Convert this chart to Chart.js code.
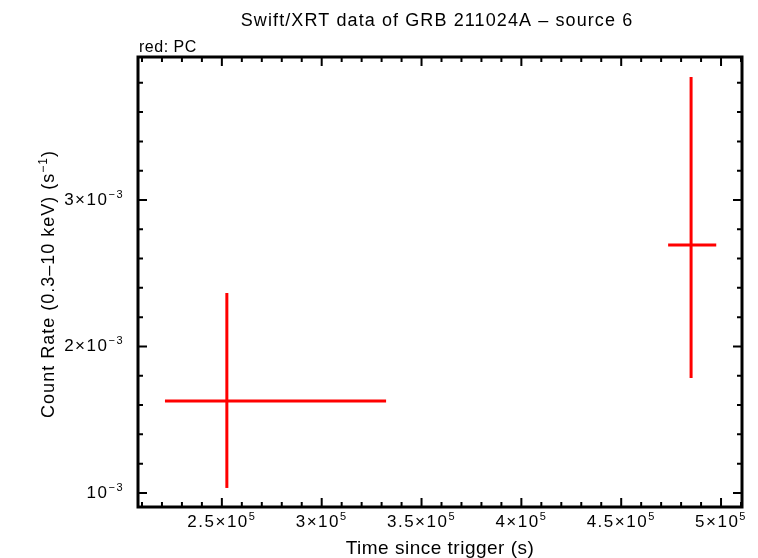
<!DOCTYPE html>
<html>
<head>
<meta charset="utf-8">
<script src="https://cdn.jsdelivr.net/npm/chart.js@4/dist/chart.umd.min.js"></script>
<style>
  body { margin: 0; background: #fff; }
  #wrap { width: 758px; height: 558px; position: relative; }
</style>
</head>
<body>
<div id="wrap"><canvas id="lc"></canvas></div>
<script>
// light curve bins (time in s, rate in counts/s)
const timeMid = [252500, 485000];
const timeLo = [221500, 473500];
const timeHi = [332250, 497600];
const rate = [1.628e-3, 2.693e-3];
const rateLo = [1.034e-3, 1.785e-3];
const rateHi = [2.365e-3, 3.84e-3];

// axis ticks
const xTicks = [250000, 300000, 350000, 400000, 450000, 500000];
const xTickText = ['2.5\u00d710', '3\u00d710', '3.5\u00d710', '4\u00d710', '4.5\u00d710', '5\u00d710'];
const xTickSup = ['5', '5', '5', '5', '5', '5'];
const yTicks = [1e-3, 2e-3, 3e-3];
const yTickText = ['10', '2\u00d710', '3\u00d710'];
const yTickSup = ['\u22123', '\u22123', '\u22123'];

const FONT = '"Liberation Sans", Arial, sans-serif';

// one dataset per error bar segment
const datasets = [];
timeMid.forEach(function (t, i) {
    datasets.push({ data: [{ x: timeLo[i], y: rate[i] }, { x: timeHi[i], y: rate[i] }] });
    datasets.push({ data: [{ x: t, y: rateLo[i] }, { x: t, y: rateHi[i] }] });
});
datasets.forEach(function (d) {
    d.showLine = true;
    d.borderColor = '#ff0000';
    d.borderWidth = 3;
    d.pointRadius = 0;
    d.borderCapStyle = 'butt';
});

// text with a superscript tail, e.g. 3x10^-3
function drawSupText(ctx, main, sup, x, y, align, size) {
    const supSize = Math.round(size * 0.66);
    ctx.font = size + 'px ' + FONT;
    const mw = ctx.measureText(main).width;
    ctx.font = supSize + 'px ' + FONT;
    const sw = ctx.measureText(sup).width;
    let start = x;
    if (align === 'center') start = x - (mw + sw) / 2;
    if (align === 'right') start = x - mw - sw;
    ctx.textAlign = 'left';
    ctx.font = size + 'px ' + FONT;
    ctx.fillText(main, start, y);
    ctx.font = supSize + 'px ' + FONT;
    ctx.fillText(sup, start + mw, y - size * 0.42);
}

const framePlugin = {
    id: 'qdpFrame',
    afterDraw: function (chart) {
        const ctx = chart.ctx;
        const a = chart.chartArea;
        const xs = chart.scales.x;
        const ys = chart.scales.y;
        ctx.save();
        ctx.strokeStyle = '#000';
        ctx.fillStyle = '#000';
        ctx.lineWidth = 3;
        ctx.strokeRect(a.left, a.top, a.right - a.left, a.bottom - a.top);

        // x ticks every 1e4, major every 5e4
        ctx.lineWidth = 2;
        for (let k = 21; k <= 51; k++) {
            const px = xs.getPixelForValue(k * 10000);
            if (px < a.left || px > a.right) continue;
            const len = (k % 5 === 0) ? 9 : 5;
            ctx.beginPath();
            ctx.moveTo(px, a.bottom); ctx.lineTo(px, a.bottom - len);
            ctx.moveTo(px, a.top); ctx.lineTo(px, a.top + len);
            ctx.stroke();
        }
        // y ticks every 2e-4, major every 1e-3
        for (let k = 4; k <= 20; k++) {
            const py = ys.getPixelForValue(k * 2e-4);
            if (py < a.top || py > a.bottom) continue;
            const len = (k % 5 === 0) ? 9 : 5;
            ctx.beginPath();
            ctx.moveTo(a.left, py); ctx.lineTo(a.left + len, py);
            ctx.moveTo(a.right, py); ctx.lineTo(a.right - len, py);
            ctx.stroke();
        }

        ctx.textBaseline = 'alphabetic';
        ctx.letterSpacing = '1.5px';
        xTicks.forEach(function (v, i) {
            drawSupText(ctx, xTickText[i], xTickSup[i], xs.getPixelForValue(v), a.bottom + 20, 'center', 17);
        });
        yTicks.forEach(function (v, i) {
            drawSupText(ctx, yTickText[i], yTickSup[i], a.left - 14, ys.getPixelForValue(v) + 5, 'right', 17);
        });

        // titles
        ctx.letterSpacing = '1.1px';
        ctx.textAlign = 'center';
        ctx.font = '18px ' + FONT;
        ctx.fillText('Swift/XRT data of GRB 211024A \u2013 source 6', 437, 26);
        ctx.letterSpacing = '0.5px';
        ctx.textAlign = 'left';
        ctx.font = '16px ' + FONT;
        ctx.fillText('red: PC', a.left + 1, 52);
        ctx.textAlign = 'center';
        ctx.font = '19px ' + FONT;
        ctx.fillText('Time since trigger (s)', 440, 554);

        ctx.letterSpacing = '1px';
        ctx.translate(54, (a.top + a.bottom) / 2 + 2);
        ctx.rotate(-Math.PI / 2);
        const main = 'Count Rate (0.3\u201310 keV) (s';
        ctx.font = '18px ' + FONT;
        const mw = ctx.measureText(main).width;
        ctx.font = '12px ' + FONT;
        const sw = ctx.measureText('\u22121').width;
        ctx.font = '18px ' + FONT;
        const cw = ctx.measureText(')').width;
        const start = -(mw + sw + cw) / 2;
        ctx.textAlign = 'left';
        ctx.fillText(main, start, 0);
        ctx.font = '12px ' + FONT;
        ctx.fillText('\u22121', start + mw, -7);
        ctx.font = '18px ' + FONT;
        ctx.fillText(')', start + mw + sw, 0);
        ctx.restore();
    }
};

new Chart(document.getElementById('lc').getContext('2d'), {
    type: 'scatter',
    data: { datasets: datasets },
    options: {
        responsive: true,
        maintainAspectRatio: false,
        animation: false,
        layout: { padding: { left: 138, right: 16, top: 57, bottom: 51 } },
        plugins: { legend: { display: false }, tooltip: { enabled: false } },
        scales: {
            x: { type: 'linear', display: false, min: 208000, max: 510500 },
            y: { type: 'linear', display: false, min: 0.904e-3, max: 3.976e-3 }
        }
    },
    plugins: [framePlugin]
});
</script>
</body>
</html>
